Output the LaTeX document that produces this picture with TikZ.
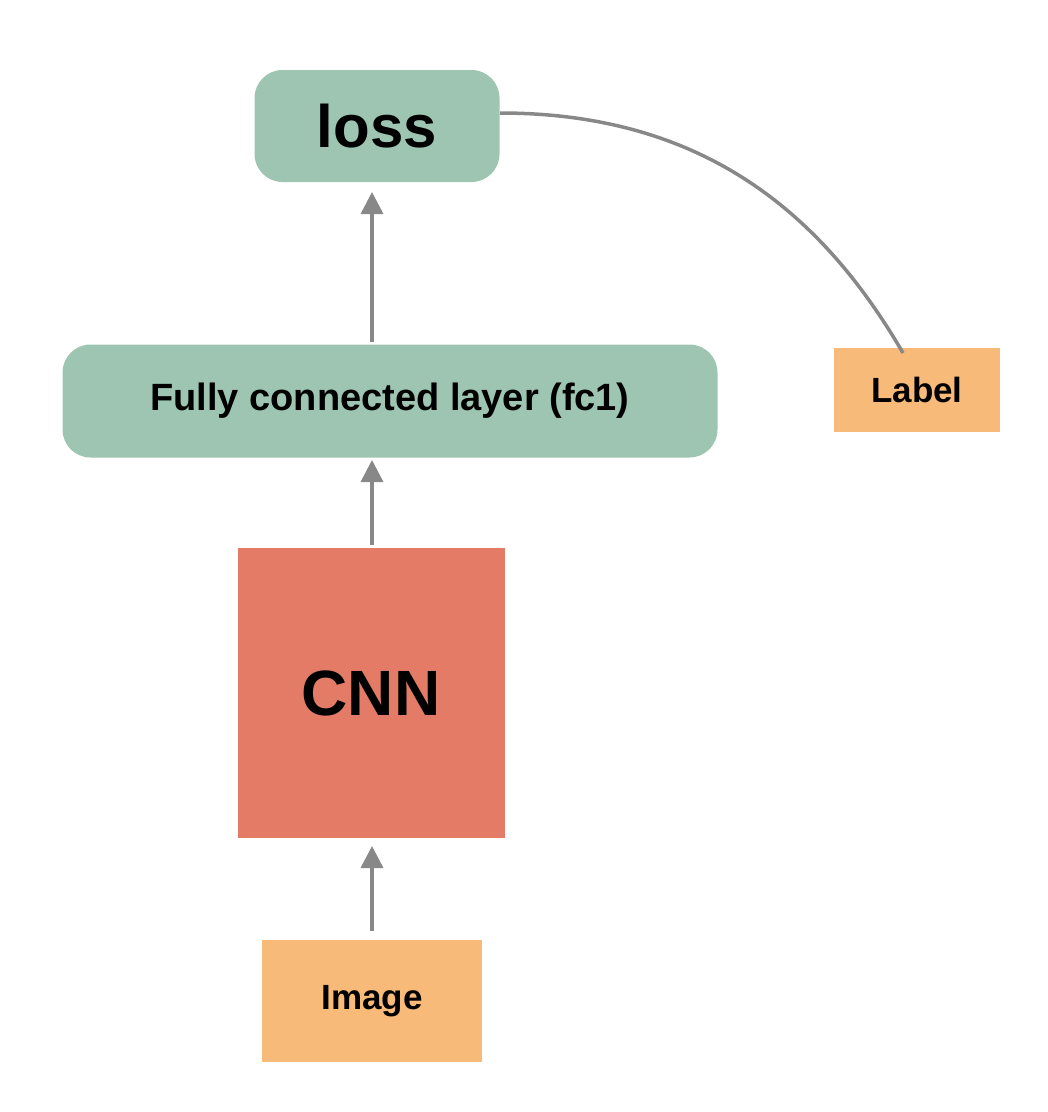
\documentclass[tikz,border=0pt]{standalone}
\usepackage{fontspec}
\setmainfont{Liberation Sans}
\usetikzlibrary{arrows.meta}
\definecolor{gr}{HTML}{9DC5B2}
\definecolor{org}{HTML}{F8BA78}
\definecolor{red}{HTML}{E47B67}
\definecolor{ln}{HTML}{888888}
\begin{document}
\begin{tikzpicture}[x=1pt,y=-1pt,
 box/.style={draw=none,inner sep=0pt,font=\bfseries},
 arr/.style={ln,line width=3.5pt,-{Triangle[length=22pt,width=22pt]}}]
\useasboundingbox (0,0) rectangle (1048,1112);
\node[box,fill=gr,rounded corners=28pt,minimum width=245pt,minimum height=112pt,font=\bfseries\fontsize{60}{60}\selectfont] (loss) at (377,126) {loss};
\node[box,fill=gr,rounded corners=28pt,minimum width=655pt,minimum height=113pt,font=\bfseries\fontsize{38}{38}\selectfont] (fc) at (390,401) {Fully connected layer (fc1)};
\node[box,fill=org,minimum width=166pt,minimum height=84pt,font=\bfseries\fontsize{35}{35}\selectfont] (label) at (917,390) {Label};
\node[box,fill=red,minimum width=267pt,minimum height=290pt,font=\bfseries\fontsize{64}{64}\selectfont] (cnn) at (371,693) {CNN};
\node[box,fill=org,minimum width=220pt,minimum height=122pt,font=\bfseries\fontsize{35}{35}\selectfont] (img) at (372,1001) {Image};
\coordinate (a1) at (372,931);
\coordinate (b1) at (372,846);
\draw[arr] (a1) -- (b1);
\draw[arr] (372,545) -- (372,460);
\draw[arr] (372,342) -- (372,192);
\coordinate (ls) at (500,113);
\coordinate (le) at (903,353);
\draw[ln,line width=3.5pt] (ls) .. controls (700,113) and (820,210) .. (le);
\end{tikzpicture}
\end{document}
